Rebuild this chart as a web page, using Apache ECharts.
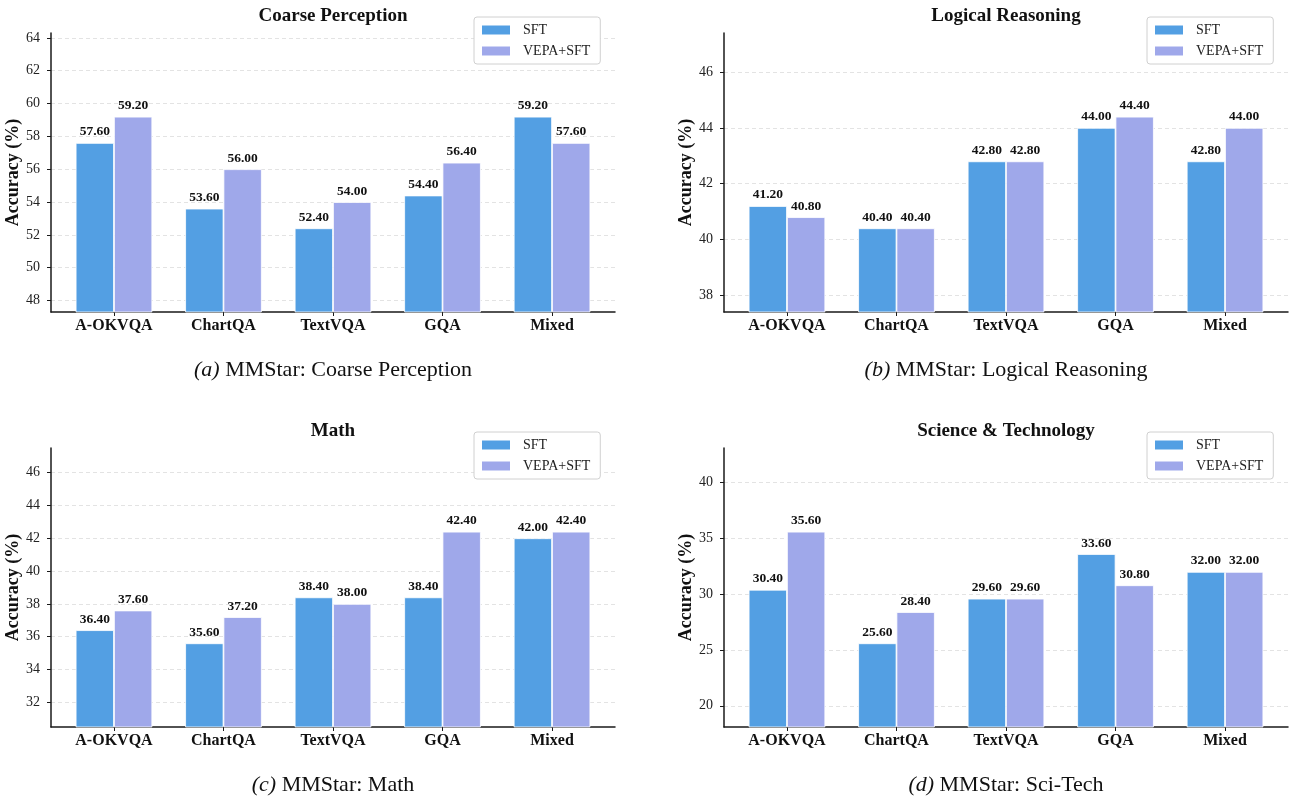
<!DOCTYPE html>
<html>
<head>
<meta charset="utf-8">
<script src="https://cdn.jsdelivr.net/npm/echarts@6/dist/echarts.min.js"></script>
<style>
  html, body { margin: 0; padding: 0; background: #fff; }
  #chart { width: 1290px; height: 801px; }
</style>
</head>
<body>
<div id="chart"></div>
<script>
// categories and series values
const categories = ['A-OKVQA', 'ChartQA', 'TextVQA', 'GQA', 'Mixed'];
const seriesNames = ['SFT', 'VEPA+SFT'];

const sftCoarse = [57.6, 53.6, 52.4, 54.4, 59.2];
const vepaCoarse = [59.2, 56.0, 54.0, 56.4, 57.6];
const sftLogical = [41.2, 40.4, 42.8, 44.0, 42.8];
const vepaLogical = [40.8, 40.4, 42.8, 44.4, 44.0];
const sftMath = [36.4, 35.6, 38.4, 38.4, 42.0];
const vepaMath = [37.6, 37.2, 38.0, 42.4, 42.4];
const sftSciTech = [30.4, 25.6, 29.6, 33.6, 32.0];
const vepaSciTech = [35.6, 28.4, 29.6, 30.8, 32.0];

// tick labels
const ticksCoarse = [48, 50, 52, 54, 56, 58, 60, 62, 64];
const ticksLogical = [38, 40, 42, 44, 46];
const ticksMath = [32, 34, 36, 38, 40, 42, 44, 46];
const ticksSciTech = [20, 25, 30, 35, 40];

const titles = ['Coarse Perception', 'Logical Reasoning', 'Math', 'Science & Technology'];
const captionTags = ['(a)', '(b)', '(c)', '(d)'];
const captionTexts = ['MMStar: Coarse Perception', 'MMStar: Logical Reasoning', 'MMStar: Math', 'MMStar: Sci-Tech'];

const SERIF = '"Liberation Serif", "DejaVu Serif", serif';
const colors = ['#539FE3', '#9FA8EA'];

const panels = [
  { sft: sftCoarse, vepa: vepaCoarse, ticks: ticksCoarse, left: 51, top: 33 },
  { sft: sftLogical, vepa: vepaLogical, ticks: ticksLogical, left: 724, top: 33 },
  { sft: sftMath, vepa: vepaMath, ticks: ticksMath, left: 51, top: 448 },
  { sft: sftSciTech, vepa: vepaSciTech, ticks: ticksSciTech, left: 724, top: 448 }
];
const gridW = 564;
const gridH = 279;

const chart = echarts.init(document.getElementById('chart'), null, { renderer: 'canvas' });

const grids = [], xAxes = [], yAxes = [], series = [], legends = [], graphics = [];
const xIdx = categories.map((c, i) => i);

panels.forEach((p, k) => {
  // y limits padded by 0.75 of the data range, like the source plot
  const all = p.sft.concat(p.vepa);
  const lo = Math.min(...all), hi = Math.max(...all);
  const pad = (hi - lo) * 0.75;

  grids.push({ left: p.left, top: p.top, width: gridW, height: gridH, containLabel: false });

  xAxes.push({
    gridIndex: k,
    type: 'value',
    min: -0.575,
    max: 4.575,
    axisLine: { show: true, onZero: false, lineStyle: { color: '#1a1a1a', width: 1.5 } },
    axisTick: { show: true, customValues: xIdx, length: 4, lineStyle: { color: '#1a1a1a', width: 1 } },
    axisLabel: {
      customValues: xIdx,
      formatter: v => categories[Math.round(v)] || '',
      margin: 6,
      color: '#111',
      fontFamily: SERIF,
      fontWeight: 'bold',
      fontSize: 16
    },
    splitLine: { show: false }
  });

  yAxes.push({
    gridIndex: k,
    type: 'value',
    min: +(lo - pad).toFixed(3),
    max: +(hi + pad).toFixed(3),
    name: 'Accuracy (%)',
    nameLocation: 'middle',
    nameGap: 22,
    nameTextStyle: { fontFamily: SERIF, fontWeight: 'bold', fontSize: 18, color: '#111' },
    axisLine: { show: true, onZero: false, lineStyle: { color: '#1a1a1a', width: 1.5 } },
    axisTick: { show: true, customValues: p.ticks, length: 4, lineStyle: { color: '#1a1a1a', width: 1 } },
    axisLabel: {
      customValues: p.ticks,
      margin: 11,
      color: '#222',
      fontFamily: SERIF,
      fontSize: 14
    },
    splitLine: { show: true, lineStyle: { color: '#dcdcdc', type: [4, 3], width: 0.8 } }
  });

  [p.sft, p.vepa].forEach((vals, s) => {
    series.push({
      name: seriesNames[s],
      type: 'bar',
      xAxisIndex: k,
      yAxisIndex: k,
      barWidth: 38.3,
      barGap: '0%',
      itemStyle: { color: colors[s], borderColor: '#fff', borderWidth: 0.8 },
      label: {
        show: true,
        position: 'top',
        distance: 4,
        formatter: d => d.value[1].toFixed(2),
        fontFamily: SERIF,
        fontWeight: 'bold',
        fontSize: 13.5,
        color: '#111'
      },
      data: vals.map((v, i) => [i, v])
    });
  });

  legends.push({
    orient: 'vertical',
    left: p.left + 423,
    top: p.top - 16,
    padding: [6, 10, 6, 6],
    itemWidth: 30,
    itemHeight: 11,
    itemGap: 7,
    icon: 'rect',
    borderColor: '#d0d0d0',
    borderWidth: 1,
    borderRadius: 3,
    backgroundColor: '#fff',
    textStyle: { fontFamily: SERIF, fontSize: 14, color: '#222', lineHeight: 14, padding: [0, 0, 0, 7] },
    data: seriesNames
  });

  // panel title
  graphics.push({
    type: 'text',
    x: p.left + gridW / 2,
    y: p.top - 17,
    style: {
      text: titles[k],
      fill: '#111',
      font: 'bold 19px ' + SERIF,
      align: 'center',
      verticalAlign: 'middle'
    }
  });

  // caption under panel
  graphics.push({
    type: 'text',
    x: p.left + gridW / 2,
    y: p.top + 337,
    style: {
      text: '{i|' + captionTags[k] + '} ' + captionTexts[k],
      fill: '#111',
      font: '22px ' + SERIF,
      align: 'center',
      verticalAlign: 'middle',
      rich: { i: { fontStyle: 'italic', fontSize: 22, fontFamily: SERIF, fill: '#111' } }
    }
  });
});

chart.setOption({
  animation: false,
  backgroundColor: '#fff',
  color: colors,
  grid: grids,
  xAxis: xAxes,
  yAxis: yAxes,
  legend: legends,
  series: series,
  graphic: graphics
});
</script>
</body>
</html>
